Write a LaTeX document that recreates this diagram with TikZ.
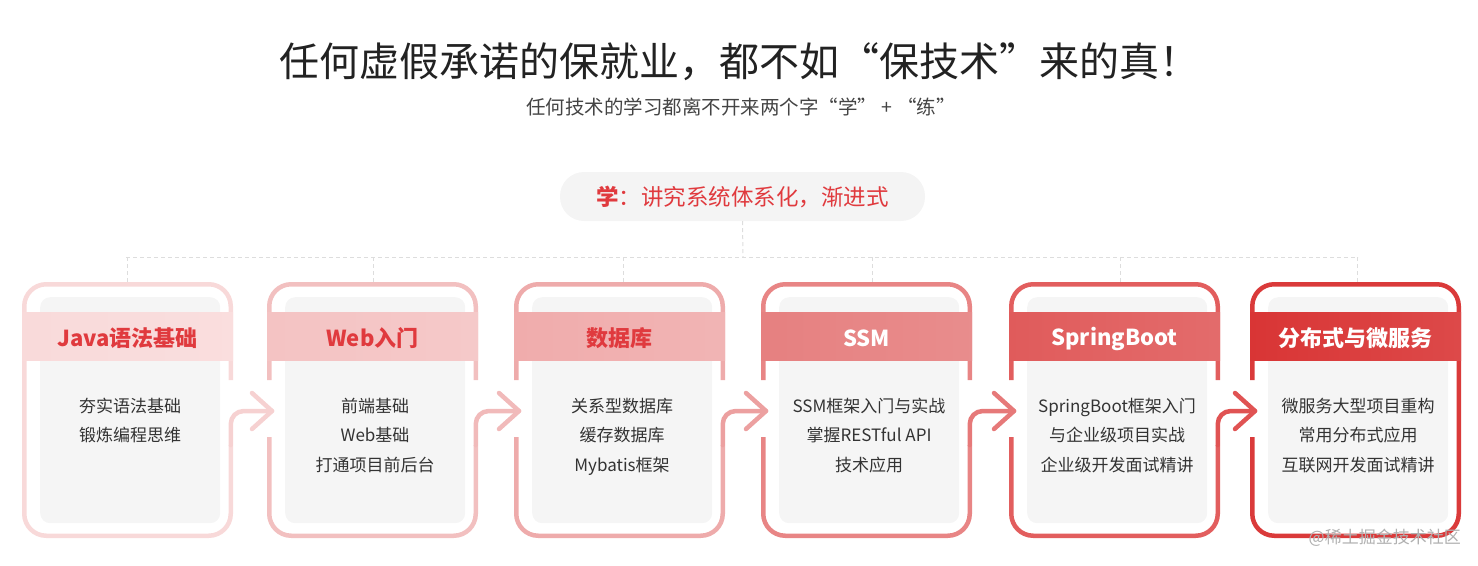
\documentclass[tikz,border=0pt]{standalone}
\usepackage{fontspec}
\setmainfont{Noto Sans CJK SC}
\definecolor{titlecol}{HTML}{222222}
\definecolor{subcol}{HTML}{444444}
\definecolor{redtext}{HTML}{E03A3E}
\definecolor{bodycol}{HTML}{333333}
\definecolor{pillgray}{HTML}{F4F4F4}
\definecolor{boxgray}{HTML}{F5F5F5}
\definecolor{dashgray}{HTML}{DDDDDD}
\definecolor{wmgray}{HTML}{B0B0B0}
\definecolor{bA}{HTML}{F8D9D9}
\definecolor{bB}{HTML}{F2C0C0}
\definecolor{bC}{HTML}{EEABAB}
\definecolor{bD}{HTML}{E88585}
\definecolor{bE}{HTML}{E25E5E}
\definecolor{bF}{HTML}{DA3A3A}
\definecolor{hA}{HTML}{F9DADA}
\definecolor{hB}{HTML}{F4C3C3}
\definecolor{hC}{HTML}{F0ACAC}
\definecolor{hD}{HTML}{E68080}
\definecolor{hE}{HTML}{E05B5B}
\definecolor{hF}{HTML}{D93535}
\tikzset{
  dashline/.style={draw=dashgray, line width=1pt, dash pattern=on 4pt off 3pt},
  bodytext/.style={text=bodycol, font=\fontsize{17}{29.5}\selectfont, align=center, inner sep=0pt},
  headband/.style={minimum width=211pt, minimum height=48pt, inner sep=0pt},
  headtext/.style={inner sep=0pt, font=\fontsize{22}{26}\selectfont\bfseries},
  graybox/.style={fill=boxgray, rounded corners=10pt, minimum width=180pt, minimum height=226pt, inner sep=0pt, anchor=north west},
  frame/.style={line width=4.5pt, rounded corners=22pt},
  link/.style={line width=4.5pt, rounded corners=13pt, line cap=round},
  chev/.style={line width=4.5pt, line cap=round, line join=round},
}
\begin{document}
\begin{tikzpicture}[x=1pt,y=-1pt]
\useasboundingbox (0,0) rectangle (1478,565);
% titles
\node (title) [text=titlecol, font=\fontsize{40}{48}\selectfont, inner sep=0pt] at (739,62) {任何虚假承诺的保就业，都不如“保技术”来的真！};
\node (subtitle) [text=subcol, font=\fontsize{19.5}{23}\selectfont, inner sep=0pt] at (741,107) {任何技术的学习都离不开来两个字“学” + “练”};
\node (pill) [fill=pillgray, rounded corners=24pt, minimum width=365pt, minimum height=49pt, inner sep=0pt, text=redtext, font=\fontsize{22.5}{26}\selectfont] at (742.5,196.5) {\textbf{学}：讲究系统体系化，渐进式};
% dashed tree
\coordinate (hub) at (743,257);
\coordinate (busL) at (126,257);
\coordinate (busR) at (1358,257);
\draw[dashline] (pill.south) -- (hub);
\draw[dashline] (busL) -- (busR);
% cards
\foreach \i/\L/\dx/\bc/\hc/\tc/\ttl/\la/\lb/\lc in {
  1/22/127/bA/hA/redtext/{Java语法基础}/{夯实语法基础}/{锻炼编程思维}/{},
  2/267/373/bB/hB/redtext/{Web入门}/{前端基础}/{Web基础}/{打通项目前后台},
  3/514/623/bC/hC/redtext/{数据库}/{关系型数据库}/{缓存数据库}/{Mybatis框架},
  4/761/872/bD/hD/white/{SSM}/{SSM框架入门与实战}/{掌握RESTful API}/{技术应用},
  5/1009/1120/bE/hE/white/{SpringBoot}/{SpringBoot框架入门}/{与企业级项目实战}/{企业级开发面试精讲},
  6/1250/1357/bF/hF/white/{分布式与微服务}/{微服务大型项目重构}/{常用分布式应用}/{互联网开发面试精讲}}{
  \pgfmathsetmacro\R{\L+211}
  \pgfmathsetmacro\C{\L+105.5}
  \pgfmathsetmacro\Lc{\L+2.25}
  \pgfmathsetmacro\Rc{\R-2.25}
  \coordinate (top\i) at (\dx,282);
  \draw[dashline] (\dx,257) -- (top\i);
  \node (box\i) [graybox] at (\L+18,297) {};
  \ifnum\i=1
    \draw[frame, draw=\bc] (\Rc,380) -- (\Rc,284.25) -- (\Lc,284.25) -- (\Lc,535.75) -- (\Rc,535.75) -- (\Rc,445);
  \else\ifnum\i=6
    \draw[frame, draw=\bc] (\Lc,380) -- (\Lc,284.25) -- (\Rc,284.25) -- (\Rc,535.75) -- (\Lc,535.75) -- (\Lc,437);
  \else
    \draw[frame, draw=\bc] (\Lc,380) -- (\Lc,284.25) -- (\Rc,284.25) -- (\Rc,380);
    \draw[frame, draw=\bc] (\Lc,437) -- (\Lc,535.75) -- (\Rc,535.75) -- (\Rc,445);
  \fi\fi
  \coordinate (out\i) at (\Rc,445);
  \coordinate (in\i) at (\L+5,411);
  \node (head\i) [headband, left color=\hc, right color=\hc!90!white] at (\C,336) {};
  \node (label\i) [headtext, text=\tc] at ([yshift=-2.5pt]head\i.center) {\ttl};
  \node (body\i) [bodytext, anchor=north] at (\C+2.5,397.5) {\la\\\lb\\\lc};
}
% connectors
\foreach \i/\j/\col/\nxt in {1/2/bA/bB,2/3/bB/bC,3/4/bC/bD,4/5/bD/bE,5/6/bE/bF}{
  \draw[link, draw=\col!70!\nxt] (out\i) |- (in\j);
  \draw[chev, draw=\col!70!\nxt] ([shift={(-20,-18)}]in\j) -- (in\j) -- ([shift={(-20,18)}]in\j);
}
\node (wm) [text=wmgray, font=\fontsize{17}{20}\selectfont, inner sep=0pt, anchor=east] at (1461,538) {@稀土掘金技术社区};
\end{tikzpicture}
\end{document}
